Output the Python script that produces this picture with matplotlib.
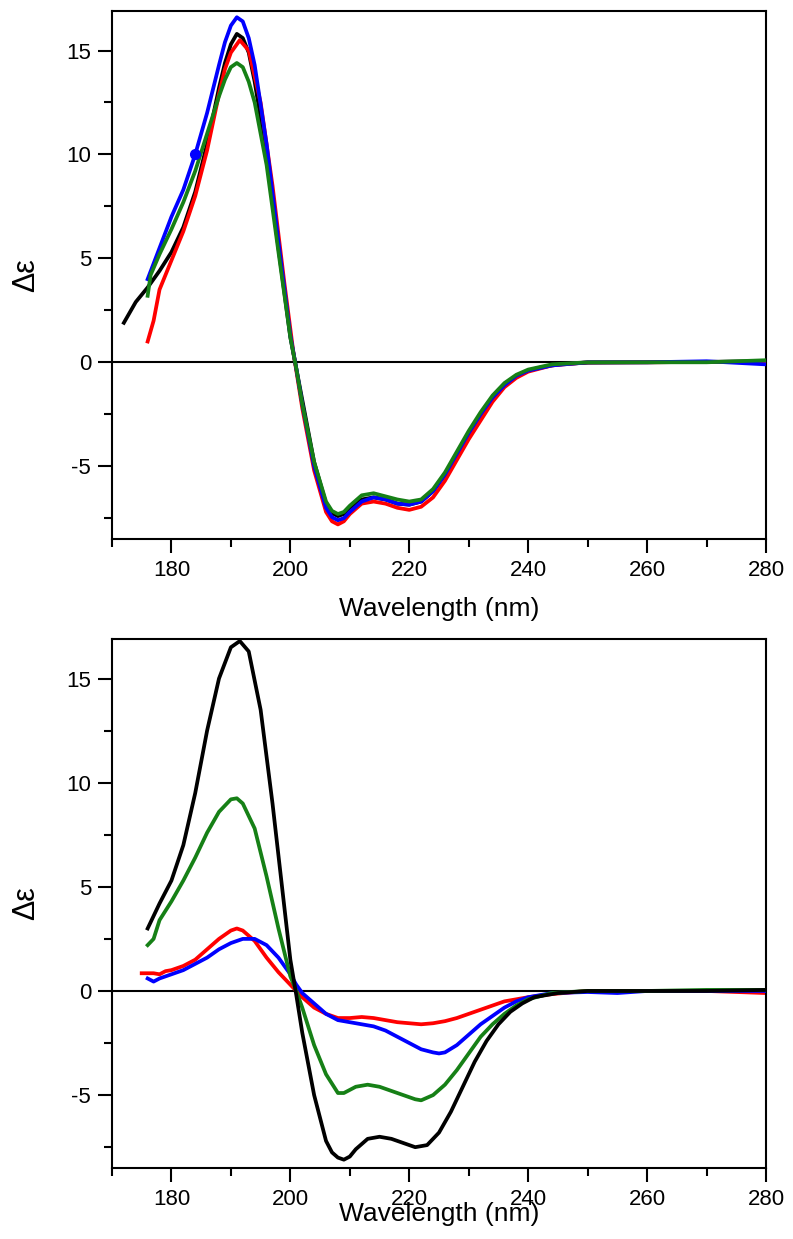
import matplotlib
matplotlib.use("Agg")
import matplotlib.pyplot as plt
from matplotlib.ticker import MultipleLocator

plt.rcParams['font.family'] = ['Liberation Sans', 'DejaVu Sans']
plt.rcParams['axes.unicode_minus'] = False

# ---------------- Top panel data ----------------
top_black_x = [172, 173, 174, 176, 178, 180, 182, 184, 186, 188, 189, 190, 191, 192, 193, 194, 196, 198, 200, 201, 202, 204, 206, 207, 208,
               209, 210, 212, 214, 216, 218, 220, 222, 224, 226, 228, 230, 232, 234, 236, 238, 240, 242, 244, 246, 250, 260, 270, 278, 280]
top_black_y = [1.9, 2.4, 2.9, 3.6, 4.4, 5.3, 6.5, 8.2, 10.5, 13.2, 14.4, 15.3, 15.8, 15.6, 14.9, 13.5, 10.0, 5.5, 1.2, -0.3, -1.8, -4.8, -6.8, -7.25, -7.4,
               -7.3, -7.0, -6.6, -6.5, -6.6, -6.8, -6.85, -6.7, -6.2, -5.4, -4.4, -3.4, -2.5, -1.7, -1.1, -0.65, -0.4, -0.25, -0.15, -0.08, -0.02, 0.0, 0.02, 0.05, 0.0]

top_red_x = [176, 177, 178, 180, 182, 184, 186, 188, 189, 190, 191.5, 193, 195, 197, 199, 200.5, 202, 204, 206, 207, 208,
             209, 210, 212, 214, 216, 218, 220, 222, 224, 226, 228, 230, 232, 234, 236, 238, 240, 244, 250, 260, 270, 280]
top_red_y = [1.0, 2.0, 3.5, 4.9, 6.3, 8.0, 10.2, 12.9, 14.1, 14.9, 15.5, 15.0, 12.5, 8.5, 3.8, 0.5, -2.2, -5.2, -7.2, -7.65, -7.8,
             -7.65, -7.3, -6.8, -6.7, -6.8, -7.0, -7.1, -6.95, -6.5, -5.7, -4.7, -3.7, -2.8, -1.9, -1.2, -0.75, -0.45, -0.15, 0.0, 0.0, 0.02, 0.0]

top_blue_x = [176, 178, 180, 182, 184, 186, 188, 189, 190, 191, 192, 193, 194, 196, 198, 200, 201, 202, 204, 206, 207, 208,
              209, 210, 212, 214, 216, 218, 220, 222, 224, 226, 228, 230, 232, 234, 236, 238, 240, 244, 250, 260, 270, 280]
top_blue_y = [4.0, 5.5, 7.0, 8.3, 10.0, 12.0, 14.3, 15.4, 16.2, 16.6, 16.4, 15.6, 14.3, 10.5, 5.8, 1.3, -0.3, -2.0, -5.0, -7.0, -7.45, -7.6,
              -7.5, -7.2, -6.7, -6.5, -6.6, -6.8, -6.85, -6.7, -6.2, -5.4, -4.4, -3.4, -2.5, -1.7, -1.1, -0.65, -0.4, -0.15, 0.0, 0.0, 0.05, -0.1]

top_green_x = [176, 176.5, 178, 180, 182, 184, 186, 188, 189, 190, 191, 192, 193, 194, 196, 198, 200, 201, 202, 204, 206, 207, 208,
               209, 210, 212, 214, 216, 218, 220, 222, 224, 226, 228, 230, 232, 234, 236, 238, 240, 244, 250, 260, 270, 280]
top_green_y = [3.2, 4.2, 5.2, 6.4, 7.7, 9.2, 11.0, 12.8, 13.6, 14.2, 14.4, 14.2, 13.5, 12.5, 9.5, 5.3, 1.2, -0.3, -2.0, -4.8, -6.7, -7.15, -7.3,
               -7.2, -6.9, -6.4, -6.3, -6.45, -6.6, -6.7, -6.6, -6.1, -5.3, -4.3, -3.3, -2.4, -1.6, -1.0, -0.6, -0.35, -0.1, 0.0, 0.0, 0.0, 0.1]

top_marker_x = [184]
top_marker_y = [10.0]

# ---------------- Bottom panel data ----------------
bot_black_x = [176, 178, 180, 182, 184, 186, 188, 190, 191.5, 193, 195, 197, 199, 200, 201, 202, 204, 206, 207, 208, 209,
               210, 211, 213, 215, 217, 219, 221, 223, 225, 227, 229, 231, 233, 235, 237, 239, 241, 245, 250, 260, 270, 280]
bot_black_y = [3.0, 4.2, 5.3, 7.0, 9.5, 12.5, 15.0, 16.5, 16.8, 16.3, 13.5, 9.0, 4.0, 1.5, -0.2, -2.0, -5.0, -7.2, -7.75, -8.0, -8.1,
               -7.95, -7.6, -7.1, -7.0, -7.1, -7.3, -7.5, -7.4, -6.8, -5.8, -4.6, -3.4, -2.4, -1.6, -1.0, -0.6, -0.3, -0.1, 0.0, 0.0, 0.0, 0.05]

bot_green_x = [176, 177, 178, 180, 182, 184, 186, 188, 190, 191, 192, 194, 196, 198, 200, 201, 202, 204, 206, 208, 209,
               211, 213, 215, 217, 219, 221, 222, 224, 226, 228, 230, 232, 234, 236, 238, 240, 244, 250, 260, 270, 280]
bot_green_y = [2.2, 2.5, 3.4, 4.3, 5.3, 6.4, 7.6, 8.6, 9.2, 9.25, 9.0, 7.8, 5.5, 3.0, 0.7, 0.0, -0.8, -2.6, -4.0, -4.9, -4.9,
               -4.6, -4.5, -4.6, -4.8, -5.0, -5.2, -5.25, -5.0, -4.5, -3.8, -3.0, -2.2, -1.6, -1.1, -0.7, -0.4, -0.1, 0.0, 0.0, 0.05, 0.05]

bot_red_x = [175, 176, 177, 178, 179, 180, 182, 184, 186, 188, 190, 191, 192, 194, 196, 198, 200, 201, 202, 204, 206, 208,
             210, 212, 214, 216, 218, 220, 222, 224, 226, 228, 230, 232, 234, 236, 238, 240, 244, 248, 250, 260, 270, 280]
bot_red_y = [0.85, 0.85, 0.85, 0.8, 0.95, 1.0, 1.2, 1.5, 2.0, 2.5, 2.9, 3.0, 2.9, 2.4, 1.6, 0.9, 0.3, 0.0, -0.3, -0.8, -1.1, -1.3,
             -1.3, -1.25, -1.3, -1.4, -1.5, -1.55, -1.6, -1.55, -1.45, -1.3, -1.1, -0.9, -0.7, -0.5, -0.4, -0.3, -0.15, -0.05, 0.0, 0.0, 0.0, -0.1]

bot_blue_x = [176, 177, 178, 180, 182, 184, 186, 188, 190, 192, 194, 196, 198, 200, 201, 202, 204, 206, 208,
              210, 212, 214, 216, 218, 220, 222, 224, 225, 226, 228, 230, 232, 234, 236, 238, 240, 244, 250, 255, 260, 270, 280]
bot_blue_y = [0.6, 0.45, 0.6, 0.8, 1.0, 1.3, 1.6, 2.0, 2.3, 2.5, 2.5, 2.2, 1.6, 0.8, 0.3, -0.1, -0.6, -1.1, -1.4,
              -1.5, -1.6, -1.7, -1.9, -2.2, -2.5, -2.8, -2.95, -3.0, -2.95, -2.6, -2.1, -1.6, -1.2, -0.8, -0.5, -0.3, -0.1, -0.05, -0.1, 0.0, 0.0, 0.0]

x_ticks = [180, 200, 220, 240, 260, 280]
y_ticks = [-5, 0, 5, 10, 15]

GREEN = '#168016'
LW = 2.7

fig = plt.figure(figsize=(7.93, 12.39), dpi=100)
ax1 = fig.add_axes([0.1412, 0.565, 0.8248, 0.4261])
ax2 = fig.add_axes([0.1412, 0.0573, 0.8248, 0.427])

def style(ax):
    ax.set_xlim(170, 280)
    ax.set_ylim(-8.5, 16.9)
    ax.set_xticks(x_ticks)
    ax.set_yticks(y_ticks)
    ax.xaxis.set_minor_locator(MultipleLocator(10))
    ax.yaxis.set_minor_locator(MultipleLocator(2.5))
    ax.tick_params(which='major', direction='out', length=10, width=1.5, labelsize=16, pad=5)
    ax.tick_params(which='minor', direction='out', length=6, width=1.5)
    for s in ax.spines.values():
        s.set_linewidth(1.5)
    ax.axhline(0, color='black', lw=1.5, zorder=1)
    ax.set_ylabel('Δε', fontsize=22, labelpad=18)

style(ax1)
ax1.plot(top_black_x, top_black_y, color='black', lw=LW, zorder=2, solid_joinstyle='round')
ax1.plot(top_red_x, top_red_y, color='#ff0000', lw=LW, zorder=3, solid_joinstyle='round')
ax1.plot(top_blue_x, top_blue_y, color='#0000ff', lw=LW, zorder=4, solid_joinstyle='round')
ax1.plot(top_green_x, top_green_y, color=GREEN, lw=LW, zorder=5, solid_joinstyle='round')
ax1.plot(top_marker_x, top_marker_y, 'o', color='#0000ff', ms=7, zorder=6)
ax1.set_xlabel('Wavelength (nm)', fontsize=19, labelpad=12)

style(ax2)
ax2.plot(bot_red_x, bot_red_y, color='#ff0000', lw=LW, zorder=2, solid_joinstyle='round')
ax2.plot(bot_blue_x, bot_blue_y, color='#0000ff', lw=LW, zorder=3, solid_joinstyle='round')
ax2.plot(bot_green_x, bot_green_y, color=GREEN, lw=LW, zorder=4, solid_joinstyle='round')
ax2.plot(bot_black_x, bot_black_y, color='black', lw=LW, zorder=5, solid_joinstyle='round')
ax2.set_xlabel('Wavelength (nm)', fontsize=19, labelpad=-6)

fig.savefig('out.png', dpi=100)
